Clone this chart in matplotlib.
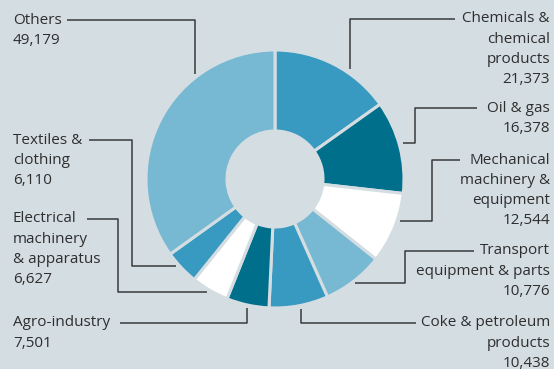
import matplotlib.pyplot as plt

categories = ["Chemicals &\nchemical\nproducts", "Oil & gas", "Mechanical\nmachinery &\nequipment",
              "Transport\nequipment & parts", "Coke & petroleum\nproducts", "Agro-industry",
              "Electrical\nmachinery\n& apparatus", "Textiles &\nclothing", "Others"]
values = [21373, 16378, 12544, 10776, 10438, 7501, 6627, 6110, 49179]

BG = "#d4dde2"
MID, DARK, LIGHT, WHITE = "#389ac0", "#006f8b", "#77b8d3", "#ffffff"
colors = [MID, DARK, WHITE, LIGHT, MID, DARK, WHITE, MID, LIGHT]

W, H = 554, 369
# label layout: (text x, first line y, align, leader path) in image pixels
layout = [
    (550, 19, "right", [(350, 69), (350, 19), (455, 19)]),
    (550, 108, "right", [(403, 143), (415, 143), (415, 108), (477, 108)]),
    (550, 160, "right", [(400, 221), (432, 221), (432, 160), (460, 160)]),
    (550, 251, "right", [(355, 283), (405, 283), (405, 251), (474, 251)]),
    (550, 323, "right", [(301, 309), (301, 323), (416, 323)]),
    (13, 323, "left", [(247, 308), (247, 323), (120, 323)]),
    (13, 219, "left", [(207, 292), (118, 292), (118, 219), (87, 219)]),
    (13, 140, "left", [(176, 266), (132, 266), (132, 140), (89, 140)]),
    (13, 20, "left", [(195, 74), (195, 20), (67, 20)]),
]

plt.rcParams['font.family'] = ['Open Sans', 'DejaVu Sans']

fig = plt.figure(figsize=(W / 100, H / 100), dpi=100, facecolor=BG)
ax = fig.add_axes([0, 0, 1, 1])
ax.set_facecolor(BG)

ax.pie(values, colors=colors, startangle=90, counterclock=False,
       radius=129, center=(275, H - 179),
       wedgeprops=dict(width=81, edgecolor=BG, linewidth=2.2))

for cat, val, (tx, ty, ha, path) in zip(categories, values, layout):
    xs = [p[0] for p in path]
    ys = [H - p[1] for p in path]
    ax.plot(xs, ys, color="#3a3a3a", lw=1.1, solid_capstyle="butt")
    lines = cat.split("\n") + [f"{val:,}"]
    for i, line in enumerate(lines):
        ax.text(tx, H - ty - i * 20.3, line, ha=ha, va="center",
                fontsize=11, color="#2e2e2e")

ax.set_xlim(0, W)
ax.set_ylim(0, H)
ax.set_aspect("equal")
ax.axis("off")

fig.savefig("out.png", dpi=100, facecolor=BG)
